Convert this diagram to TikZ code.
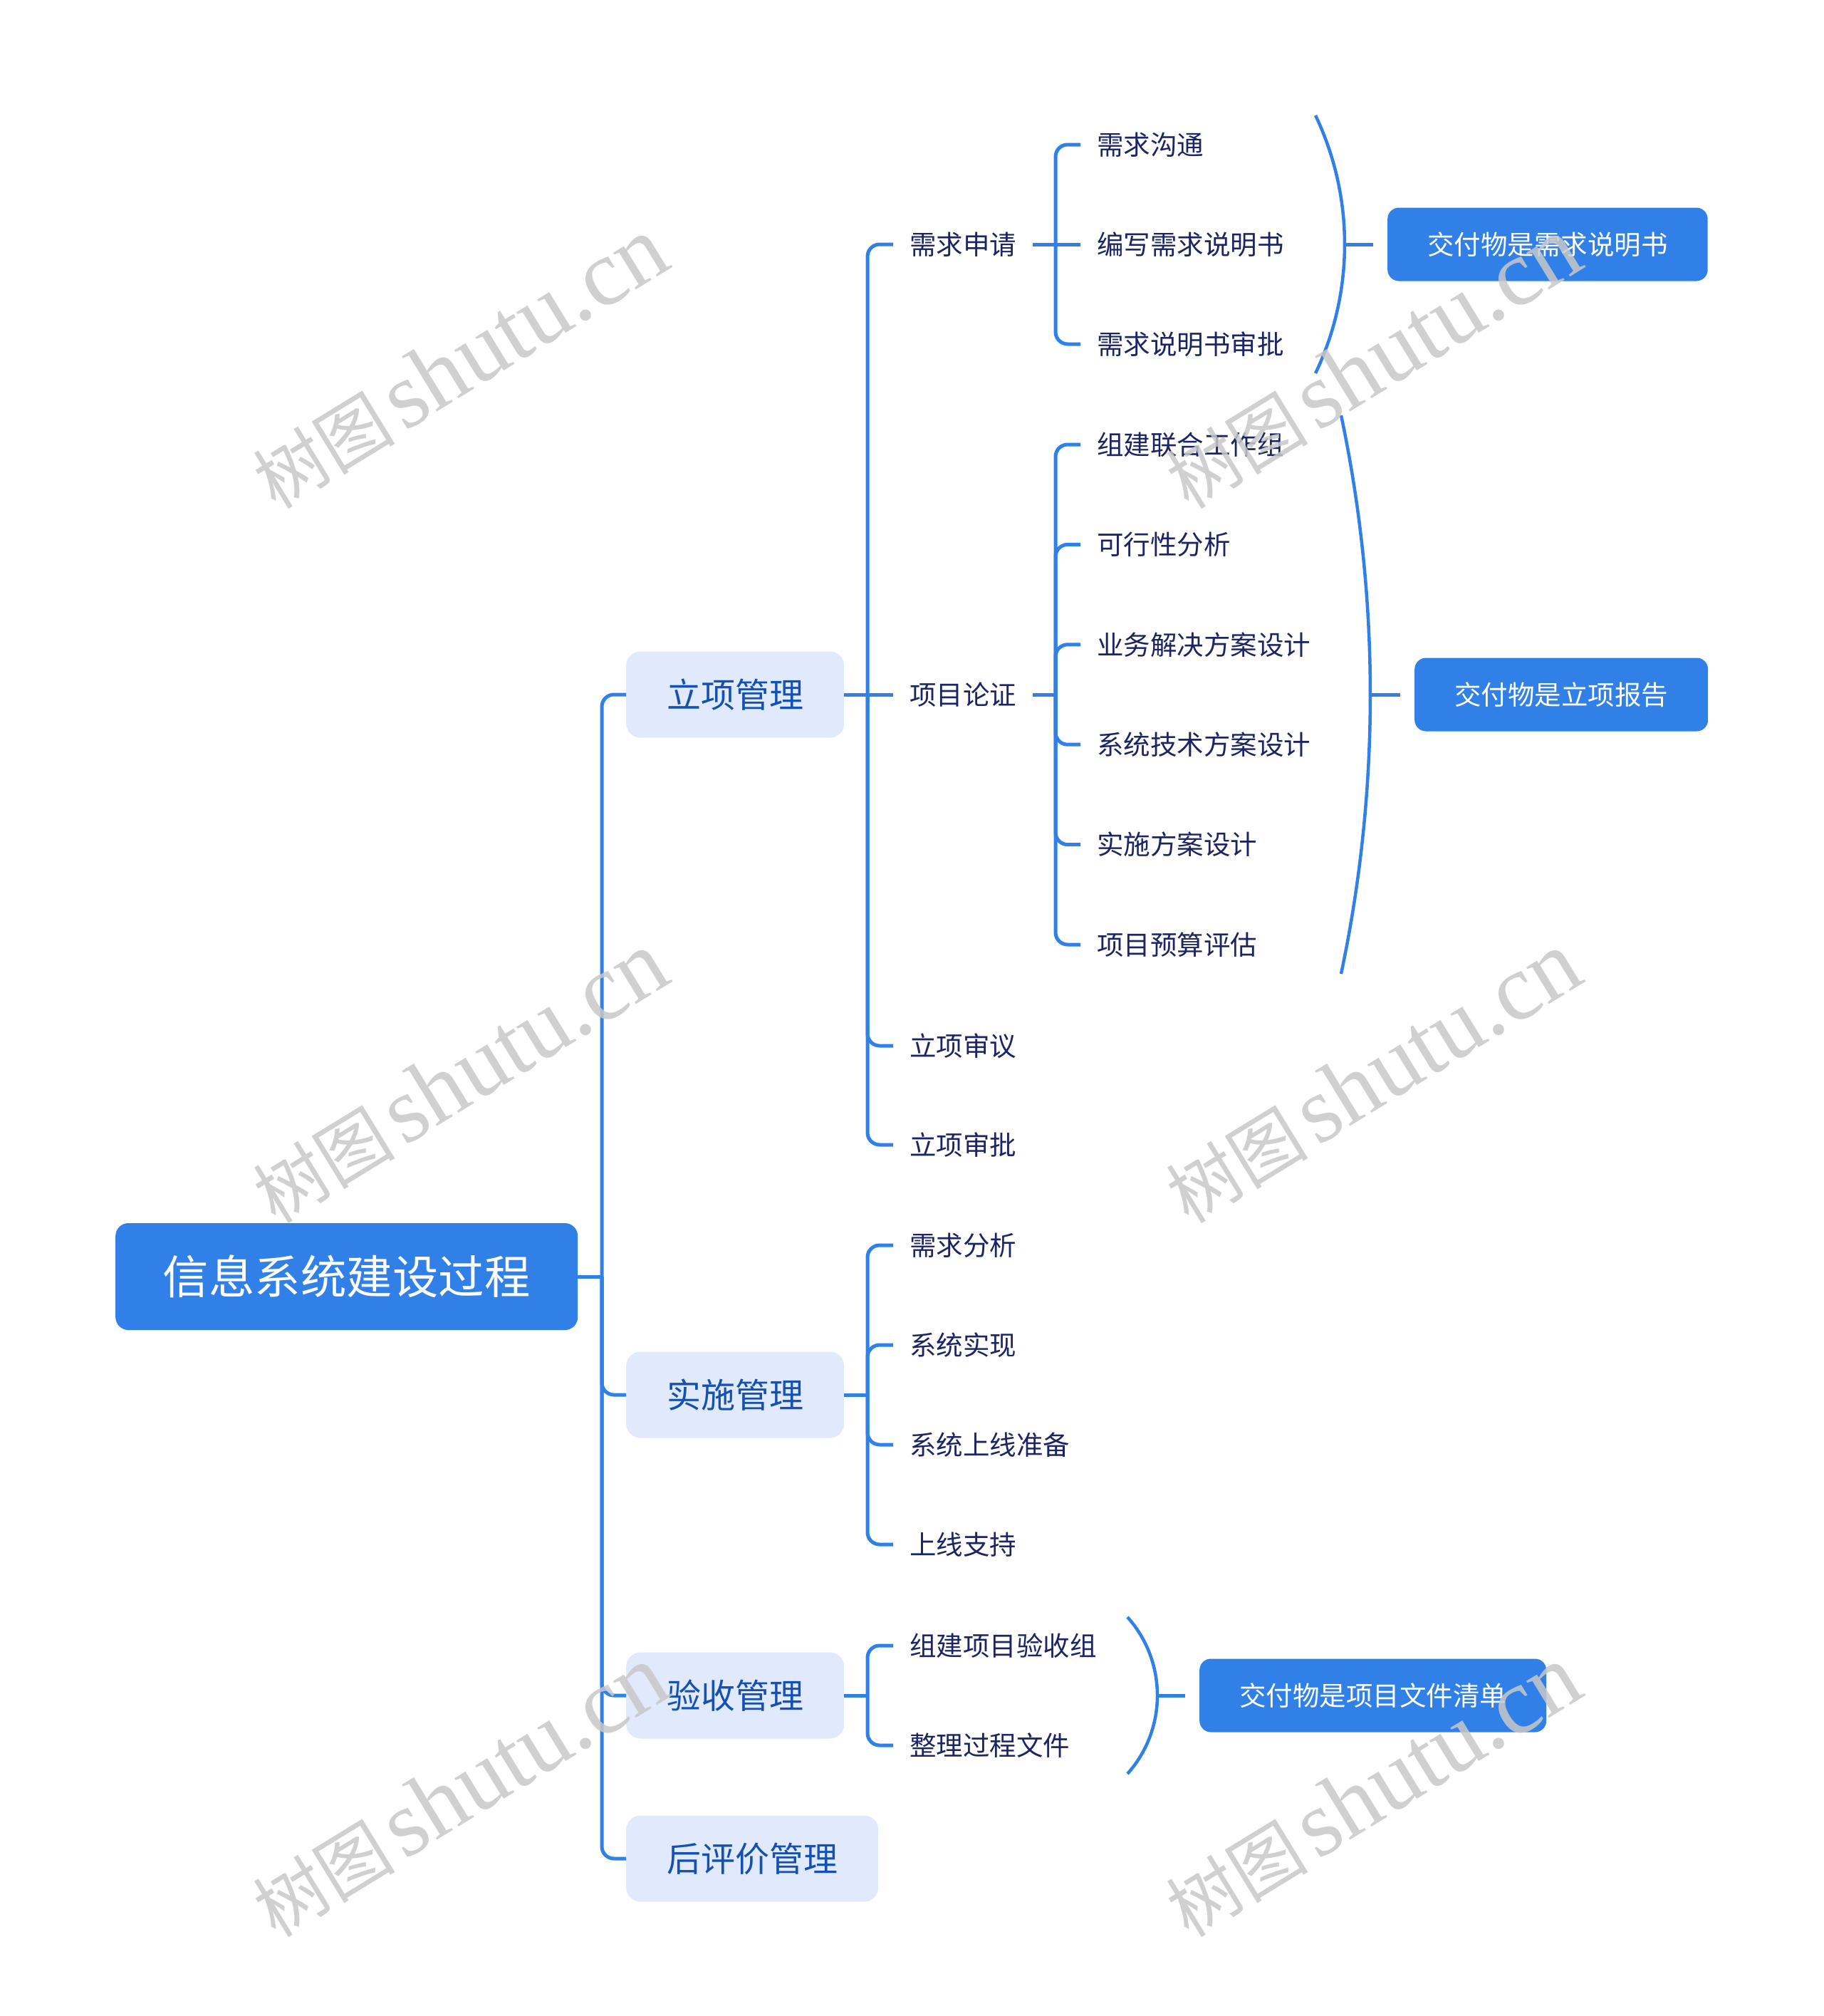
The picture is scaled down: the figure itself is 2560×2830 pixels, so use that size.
\documentclass[tikz,border=0pt]{standalone}
\usepackage{fontspec}
\newfontfamily\cjk{Noto Sans CJK SC}
\newfontfamily\wmlat{Liberation Serif}
\definecolor{mainblue}{HTML}{3080E8}
\definecolor{lightfill}{HTML}{E1E9FC}
\definecolor{lonetext}{HTML}{1551B0}
\definecolor{leaftext}{HTML}{1C2463}
\definecolor{wmgray}{HTML}{C8C8C8}
\begin{document}
\begin{tikzpicture}[x=1pt,y=-1pt,
  conn/.style={draw=mainblue, line width=5pt},
  rootbox/.style={fill=mainblue, rounded corners=18pt, text=white,
    font=\cjk\fontsize{64.5}{70}\selectfont, inner xsep=66.5pt, inner ysep=0pt,
    minimum height=150pt, text height=56.8pt, text depth=7.7pt, anchor=west},
  lonebox/.style={fill=lightfill, rounded corners=20pt, text=lonetext,
    font=\cjk\fontsize{48}{54}\selectfont, inner xsep=57pt, inner ysep=0pt,
    minimum height=121pt, text height=42.2pt, text depth=5.8pt, anchor=west},
  leaf/.style={text=leaftext, font=\cjk\fontsize{37.5}{42}\selectfont,
    inner xsep=23pt, inner ysep=0pt, text height=33pt, text depth=4.5pt, anchor=west},
  deliv/.style={fill=mainblue, rounded corners=16pt, text=white,
    font=\cjk\fontsize{37.5}{42}\selectfont, inner xsep=56pt, inner ysep=0pt,
    minimum height=103pt, text height=33pt, text depth=4.5pt, anchor=west},
  wm/.style={text=wmgray, text opacity=0.85, rotate=31.5, inner sep=0pt},
  elbow/.style={conn, rounded corners=17pt}
]
\fill[white] (0,0) rectangle (2560,2830);
\useasboundingbox (0,0) rectangle (2560,2830);

% root and level 1
\node[rootbox] (root) at (162,1792) {信息系统建设过程};
\node[lonebox] (lx) at (879,975) {立项管理};
\node[lonebox] (ss) at (879,1958) {实施管理};
\node[lonebox] (ys) at (879,2380) {验收管理};
\node[lonebox] (hp) at (879,2609) {后评价管理};

% level 2
\node[leaf] (xqsq) at (1254,343) {需求申请};
\node[leaf] (xmlz) at (1254,975) {项目论证};
\node[leaf] (lxsy) at (1254,1468) {立项审议};
\node[leaf] (lxsp) at (1254,1607) {立项审批};
\node[leaf] (xqfx) at (1254,1748) {需求分析};
\node[leaf] (xtsx) at (1254,1888) {系统实现};
\node[leaf] (sxzb) at (1254,2028) {系统上线准备};
\node[leaf] (sxzc) at (1254,2168) {上线支持};
\node[leaf] (jlys) at (1254,2310) {组建项目验收组};
\node[leaf] (zlwj) at (1254,2450) {整理过程文件};

% level 3
\node[leaf] (xqgt) at (1517,203) {需求沟通};
\node[leaf] (bxsm) at (1517,343) {编写需求说明书};
\node[leaf] (smsp) at (1517,483) {需求说明书审批};
\node[leaf] (zjlh) at (1517,624) {组建联合工作组};
\node[leaf] (kxx) at (1517,764.4) {可行性分析};
\node[leaf] (ywjj) at (1517,904.8) {业务解决方案设计};
\node[leaf] (xtjs) at (1517,1045.2) {系统技术方案设计};
\node[leaf] (ssfa) at (1517,1185.6) {实施方案设计};
\node[leaf] (ysgs) at (1517,1326) {项目预算评估};

% deliverables
\node[deliv] (d1) at (1948,343) {交付物是需求说明书};
\node[deliv] (d2) at (1986,975) {交付物是立项报告};
\node[deliv] (d3) at (1684,2380) {交付物是项目文件清单};

% junctions
\coordinate (j0) at (845,1792);
\coordinate (j1) at (1218,975);
\coordinate (j2) at (1482,343);
\coordinate (j3) at (1482,975);
\coordinate (j4) at (1218,1958);
\coordinate (j5) at (1218,2380);

% root -> level 1
\draw[conn] (root.east) -- (j0);
\foreach \c in {lx,ss,ys,hp} \draw[elbow] (j0) |- (\c.west);

% 立项管理 -> level 2
\draw[conn] (lx.east) -- (j1);
\draw[conn] (j1) -- (xmlz.west);
\foreach \c in {xqsq,lxsy,lxsp} \draw[elbow] (j1) |- (\c.west);

% 需求申请 -> level 3
\draw[conn] (xqsq.east) -- (j2);
\draw[conn] (j2) -- (bxsm.west);
\foreach \c in {xqgt,smsp} \draw[elbow] (j2) |- (\c.west);

% 项目论证 -> level 3
\draw[conn] (xmlz.east) -- (j3);
\foreach \c in {zjlh,kxx,ywjj,xtjs,ssfa,ysgs} \draw[elbow] (j3) |- (\c.west);

% 实施管理 -> level 2
\draw[conn] (ss.east) -- (j4);
\foreach \c in {xqfx,xtsx,sxzb,sxzc} \draw[elbow] (j4) |- (\c.west);

% 验收管理 -> level 2
\draw[conn] (ys.east) -- (j5);
\foreach \c in {jlys,zlwj} \draw[elbow] (j5) |- (\c.west);

% summary brackets
\coordinate (b1t) at (1847,162);
\coordinate (b1m) at (1888,343);
\coordinate (b1b) at (1847,524);
\draw[conn, line width=4.5pt] (b1t) .. controls (1901.6,276.3) and (1901.6,409.7) .. (b1b);
\draw[conn, shorten >=20pt] (b1m) -- (d1.west);

\coordinate (b2t) at (1883,583);
\coordinate (b2m) at (1924,975);
\coordinate (b2b) at (1883,1367);
\draw[conn, line width=4.5pt] (b2t) .. controls (1937.6,841.3) and (1937.6,1108.7) .. (b2b);
\draw[conn, shorten >=20pt] (b2m) -- (d2.west);

\coordinate (b3t) at (1583,2270);
\coordinate (b3m) at (1625,2380);
\coordinate (b3b) at (1583,2490);
\draw[conn, line width=4.5pt] (b3t) .. controls (1639,2332.6) and (1639,2427.4) .. (b3b);
\draw[conn, shorten >=20pt] (b3m) -- (d3.west);

% watermarks
\foreach \wx/\wy/\wn in {645/510/wa,645/1513/wb,645/2515/wc,1927/510/wd,1927/1513/we,1927/2515/wf}
  \node[wm] (\wn) at (\wx,\wy) {{\cjk\fontsize{100}{110}\selectfont 树图}\hspace{12pt}{\wmlat\fontsize{132}{140}\selectfont shutu.cn}};
\end{tikzpicture}
\end{document}
